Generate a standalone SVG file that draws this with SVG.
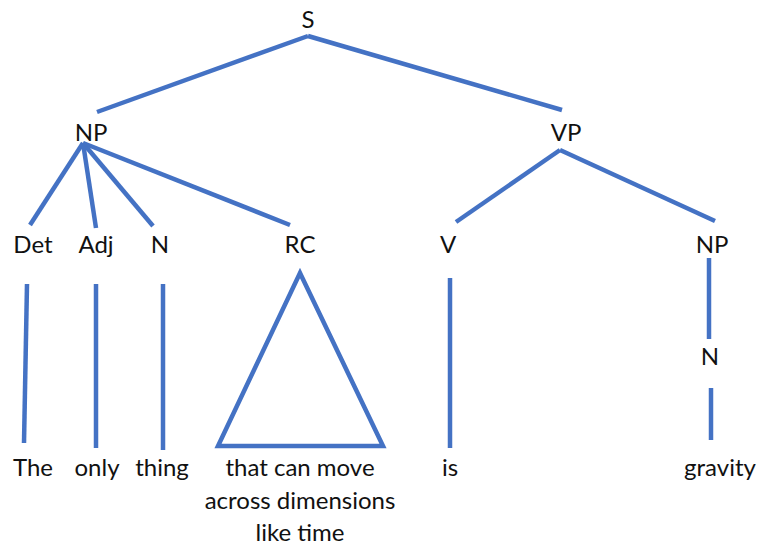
<svg xmlns="http://www.w3.org/2000/svg" width="760" height="547" viewBox="0 0 760 547">
<style>
text{font-family:Lato,"Liberation Sans",sans-serif;font-size:24px;fill:#111;text-anchor:middle}
.e{stroke:#4472C4;stroke-width:4.5;fill:none;stroke-linecap:butt}
</style>
<rect width="760" height="547" fill="#fff"/>
<g id="connectors" class="e">
<line x1="308" y1="36" x2="97" y2="112"/>
<line x1="308" y1="36" x2="562" y2="110"/>
<line x1="83" y1="143" x2="30" y2="225"/>
<line x1="83" y1="143" x2="96" y2="228"/>
<line x1="83" y1="143" x2="153" y2="226"/>
<line x1="83" y1="143" x2="290" y2="225"/>
<line x1="560" y1="150" x2="456" y2="222"/>
<line x1="560" y1="150" x2="715" y2="221"/>
<line x1="27" y1="284" x2="24" y2="443"/>
<line x1="96" y1="284" x2="96" y2="448"/>
<line x1="163" y1="284" x2="163" y2="450"/>
<polygon points="300,273 218,446 383,446" stroke-linejoin="miter"/>
<line x1="450" y1="278" x2="450" y2="448"/>
<line x1="709" y1="258" x2="709" y2="339"/>
<line x1="711" y1="388" x2="711" y2="440"/>
</g>
<g id="S"><text x="308" y="28">S</text></g>
<g id="NP1"><text x="91" y="141">NP</text></g>
<g id="VP"><text x="566" y="141">VP</text></g>
<g id="Det"><text x="33" y="253">Det</text></g>
<g id="Adj"><text x="96" y="253">Adj</text></g>
<g id="N1"><text x="160" y="253">N</text></g>
<g id="RC"><text x="300" y="253">RC</text></g>
<g id="V"><text x="448" y="253">V</text></g>
<g id="NP2"><text x="712" y="253">NP</text></g>
<g id="N2"><text x="710" y="365">N</text></g>
<g id="The"><text x="33" y="476">The</text></g>
<g id="only"><text x="97" y="476">only</text></g>
<g id="thing"><text x="162" y="476">thing</text></g>
<g id="rc-text"><text x="300" y="476">that can move</text><text x="300" y="509">across dimensions</text><text x="300" y="541">like time</text></g>
<g id="is"><text x="450" y="476">is</text></g>
<g id="gravity"><text x="720" y="476">gravity</text></g>
</svg>
